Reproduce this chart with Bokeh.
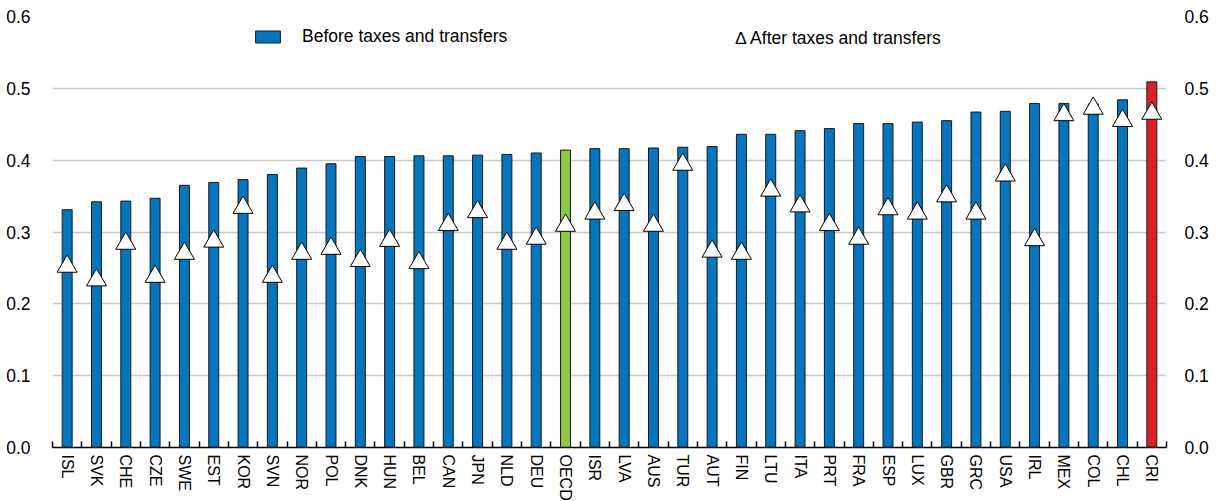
from bokeh.plotting import figure
from bokeh.models import (ColumnDataSource, Range1d, FixedTicker, LinearAxis,
                          PrintfTickFormatter, Legend, LegendItem, Label)
from bokeh.transform import dodge
from bokeh.embed import file_html
from bokeh.resources import INLINE

countries = ["ISL", "SVK", "CHE", "CZE", "SWE", "EST", "KOR", "SVN", "NOR", "POL",
             "DNK", "HUN", "BEL", "CAN", "JPN", "NLD", "DEU", "OECD", "ISR", "LVA",
             "AUS", "TUR", "AUT", "FIN", "LTU", "ITA", "PRT", "FRA", "ESP", "LUX",
             "GBR", "GRC", "USA", "IRL", "MEX", "COL", "CHL", "CRI"]
before_taxes = [0.331, 0.342, 0.343, 0.347, 0.365, 0.369, 0.373, 0.380, 0.389, 0.395,
                0.405, 0.405, 0.406, 0.406, 0.407, 0.408, 0.410, 0.414, 0.416, 0.416,
                0.417, 0.418, 0.419, 0.436, 0.436, 0.441, 0.444, 0.451, 0.451, 0.453,
                0.455, 0.467, 0.468, 0.479, 0.479, 0.478, 0.484, 0.509]
after_taxes = [0.256, 0.237, 0.288, 0.242, 0.274, 0.291, 0.338, 0.242, 0.274, 0.281,
               0.264, 0.292, 0.261, 0.314, 0.332, 0.288, 0.295, 0.313, 0.330, 0.342,
               0.313, 0.398, 0.277, 0.274, 0.362, 0.340, 0.314, 0.295, 0.336, 0.330,
               0.354, 0.330, 0.383, 0.293, 0.467, 0.476, 0.459, 0.469]
y_ticks = [0.0, 0.1, 0.2, 0.3, 0.4, 0.5, 0.6]
series_names = ["Before taxes and transfers", "After taxes and transfers"]

BLUE = "#0575BD"
GREEN = "#8CC841"
RED = "#DA2128"
FONT = "'Liberation Sans', Arial, sans-serif"
FS = "17.5px"
FS_X = "16px"

xpos = list(range(len(countries)))
colors = [GREEN if c == "OECD" else RED if c == "CRI" else BLUE for c in countries]
src = ColumnDataSource(dict(x=xpos, before=before_taxes, after=after_taxes, color=colors))

p = figure(frame_width=1114, frame_height=431, output_backend="svg", toolbar_location=None,
           x_range=Range1d(-0.5, len(countries) - 0.5), y_range=Range1d(0, 0.6),
           min_border_left=52, min_border_right=52, min_border_top=16, min_border_bottom=0,
           y_axis_location=None)
p.outline_line_color = None
p.background_fill_color = "white"
p.border_fill_color = "white"

# grid
p.xgrid.visible = False
p.ygrid.ticker = FixedTicker(ticks=y_ticks)
p.ygrid.grid_line_color = "#C8C8C8"
p.ygrid.grid_line_width = 1.5

bars = p.vbar(x="x", top="before", width=0.34, bottom=0, source=src,
              fill_color="color", line_color="#1a1a1a", line_width=1)

tri = p.scatter(x="x", y=dodge("after", -0.004), source=src, marker="triangle", size=20,
                fill_color="white", line_color="black", line_width=1)

# x axis
xa = p.xaxis[0]
xa.ticker = FixedTicker(ticks=xpos, minor_ticks=[i - 0.5 for i in range(len(countries) + 1)])
xa.major_label_overrides = {i: c for i, c in enumerate(countries)}
xa.major_label_orientation = "vertical"
xa.major_tick_in = 0
xa.major_tick_out = 0
xa.minor_tick_in = 6
xa.minor_tick_out = 0
xa.minor_tick_line_color = "black"
xa.minor_tick_line_width = 1.5
xa.axis_line_color = "black"
xa.axis_line_width = 1.5
xa.major_label_standoff = 7
xa.major_label_text_font = FONT
xa.major_label_text_font_size = FS_X
xa.major_label_text_color = "black"

# y axes
for side, standoff in (("left", 16), ("right", 12)):
    ya = LinearAxis(ticker=FixedTicker(ticks=y_ticks), formatter=PrintfTickFormatter(format="%.1f"))
    ya.axis_line_color = None
    ya.major_tick_line_color = None
    ya.minor_tick_line_color = None
    ya.major_label_standoff = standoff
    ya.major_label_text_font = FONT
    ya.major_label_text_font_size = FS
    ya.major_label_text_color = "black"
    p.add_layout(ya, side)

legend = Legend(items=[LegendItem(label=series_names[0], renderers=[bars])],
                location=(200, 400), orientation="horizontal",
                glyph_width=31, glyph_height=15, label_standoff=19,
                padding=0, margin=0, border_line_color=None, background_fill_alpha=0,
                label_text_font=FONT, label_text_font_size=FS, label_text_color="black")
p.add_layout(legend, "center")

lbl = Label(x=683, y=410, x_units="screen", y_units="screen",
            text="\u2206 " + series_names[1], text_font=FONT, text_font_size=FS,
            text_color="black", text_baseline="middle", text_align="left")
p.add_layout(lbl)

open("out.html", "w").write(file_html(p, INLINE))
